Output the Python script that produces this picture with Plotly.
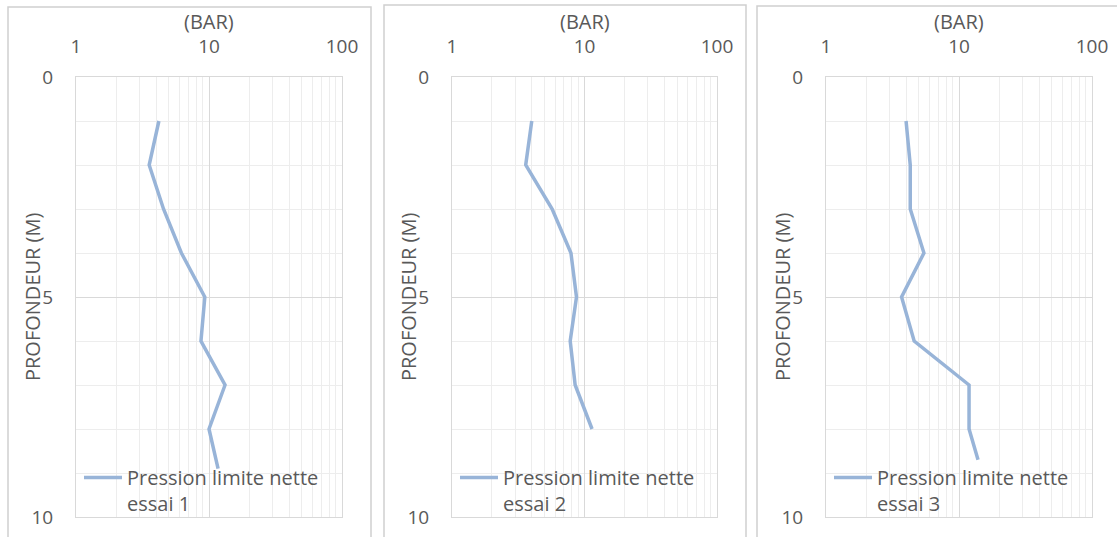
import plotly.graph_objects as go

# Pressiometer net limit pressure profiles (bar) against depth (m), three tests
depth_1 = [1, 2, 3, 4, 5, 6, 7, 8, 8.9]
pl_1 = [4.2, 3.55, 4.55, 6.2, 9.3, 8.7, 13.2, 10.0, 11.7]

depth_2 = [1, 2, 3, 4, 5, 6, 7, 8]
pl_2 = [4.0, 3.6, 5.7, 7.9, 8.7, 7.8, 8.5, 11.4]

depth_3 = [1, 2, 3, 4, 5, 6, 7, 8, 8.7]
pl_3 = [4.0, 4.3, 4.3, 5.45, 3.7, 4.6, 11.9, 11.9, 13.9]

series = [
    ("Pression limite nette<br>essai 1", depth_1, pl_1),
    ("Pression limite nette<br>essai 2", depth_2, pl_2),
    ("Pression limite nette<br>essai 3", depth_3, pl_3),
]

x_ticks = [1, 10, 100]
x_labels = ["1", "10", "100"]
y_ticks = [0, 5, 10]
y_labels = ["0", "5", "10"]
minor_x = [m * d for d in (1, 10) for m in range(2, 10)]

W, H = 1117, 537
LINE = "#98B4D8"
TXT = "#595959"
FONT = "Open Sans"

# panel plot-area edges in pixels
plot_left = [76, 452, 826]
plot_right = [342, 717, 1092]
plot_top, plot_bottom = 77, 517
frames = [(8, 371, 7), (384, 746, 5), (757, 1125, 6)]

fig = go.Figure()

for i, (name, depth, pl) in enumerate(series):
    n = "" if i == 0 else str(i + 1)
    fig.add_trace(go.Scatter(
        x=pl, y=depth, mode="lines", name=name,
        line=dict(color=LINE, width=3.5),
        xaxis="x" + n, yaxis="y" + n,
        legend="legend" + n,
        hoverinfo="x+y",
    ))
    dom_x = [plot_left[i] / W, plot_right[i] / W]
    dom_y = [1 - plot_bottom / H, 1 - plot_top / H]
    fig.update_layout(**{
        "xaxis" + n: dict(
            domain=dom_x, type="log", range=[0, 2], side="top",
            anchor="y" + n,
            tickvals=x_ticks, ticktext=x_labels,
            tickfont=dict(size=19, color=TXT, family=FONT),
            ticks="outside", ticklen=15, tickcolor="rgba(0,0,0,0)",
            showgrid=True, gridcolor="#D9D9D9", gridwidth=1,
            minor=dict(tickvals=minor_x, showgrid=True,
                       gridcolor="#EDEDED", gridwidth=1, ticks=""),
            showline=True, linecolor="#D9D9D9", linewidth=1, mirror=True,
            zeroline=False, fixedrange=True,
        ),
        "yaxis" + n: dict(
            domain=dom_y, range=[10, 0], anchor="x" + n,
            tickvals=y_ticks, ticktext=y_labels,
            tickfont=dict(size=19, color=TXT, family=FONT),
            ticks="outside", ticklen=18, tickcolor="rgba(0,0,0,0)",
            showgrid=True, gridcolor="#D9D9D9", gridwidth=1,
            minor=dict(dtick=1, showgrid=True, gridcolor="#EDEDED",
                       gridwidth=1, ticks=""),
            showline=True, linecolor="#D9D9D9", linewidth=1, mirror=True,
            zeroline=False, fixedrange=True,
        ),
        "legend" + n: dict(
            x=(plot_left[i] + 3) / W, y=1 - 458 / H,
            xanchor="left", yanchor="top",
            bgcolor="rgba(0,0,0,0)", borderwidth=0, valign="top",
            itemwidth=38,
            font=dict(size=20, color=TXT, family=FONT),
            tracegroupgap=0,
        ),
    })

    # axis titles
    cx = (plot_left[i] + plot_right[i]) / 2
    fig.add_annotation(
        text="(BAR)", x=cx / W, y=1 - 22 / H, xref="paper", yref="paper",
        showarrow=False, xanchor="center", yanchor="middle",
        font=dict(size=20, color=TXT, family=FONT),
    )
    fig.add_annotation(
        text="PROFONDEUR (M)", x=(plot_left[i] - 44) / W,
        y=1 - (plot_top + plot_bottom) / 2 / H,
        xref="paper", yref="paper", textangle=-90,
        showarrow=False, xanchor="center", yanchor="middle",
        font=dict(size=20, color=TXT, family=FONT),
    )

    # chart frame
    fx0, fx1, fy = frames[i]
    fig.add_shape(
        type="rect", xref="paper", yref="paper",
        x0=fx0 / W, x1=fx1 / W, y0=-0.1, y1=1 - fy / H,
        line=dict(color="#D0D0D0", width=1.5), fillcolor="rgba(0,0,0,0)",
        layer="below",
    )

fig.update_layout(
    width=W, height=H,
    margin=dict(l=0, r=0, t=0, b=0, autoexpand=False),
    paper_bgcolor="white", plot_bgcolor="white",
    font=dict(family=FONT, color=TXT),
    showlegend=True,
)

fig.write_html("out.html")
